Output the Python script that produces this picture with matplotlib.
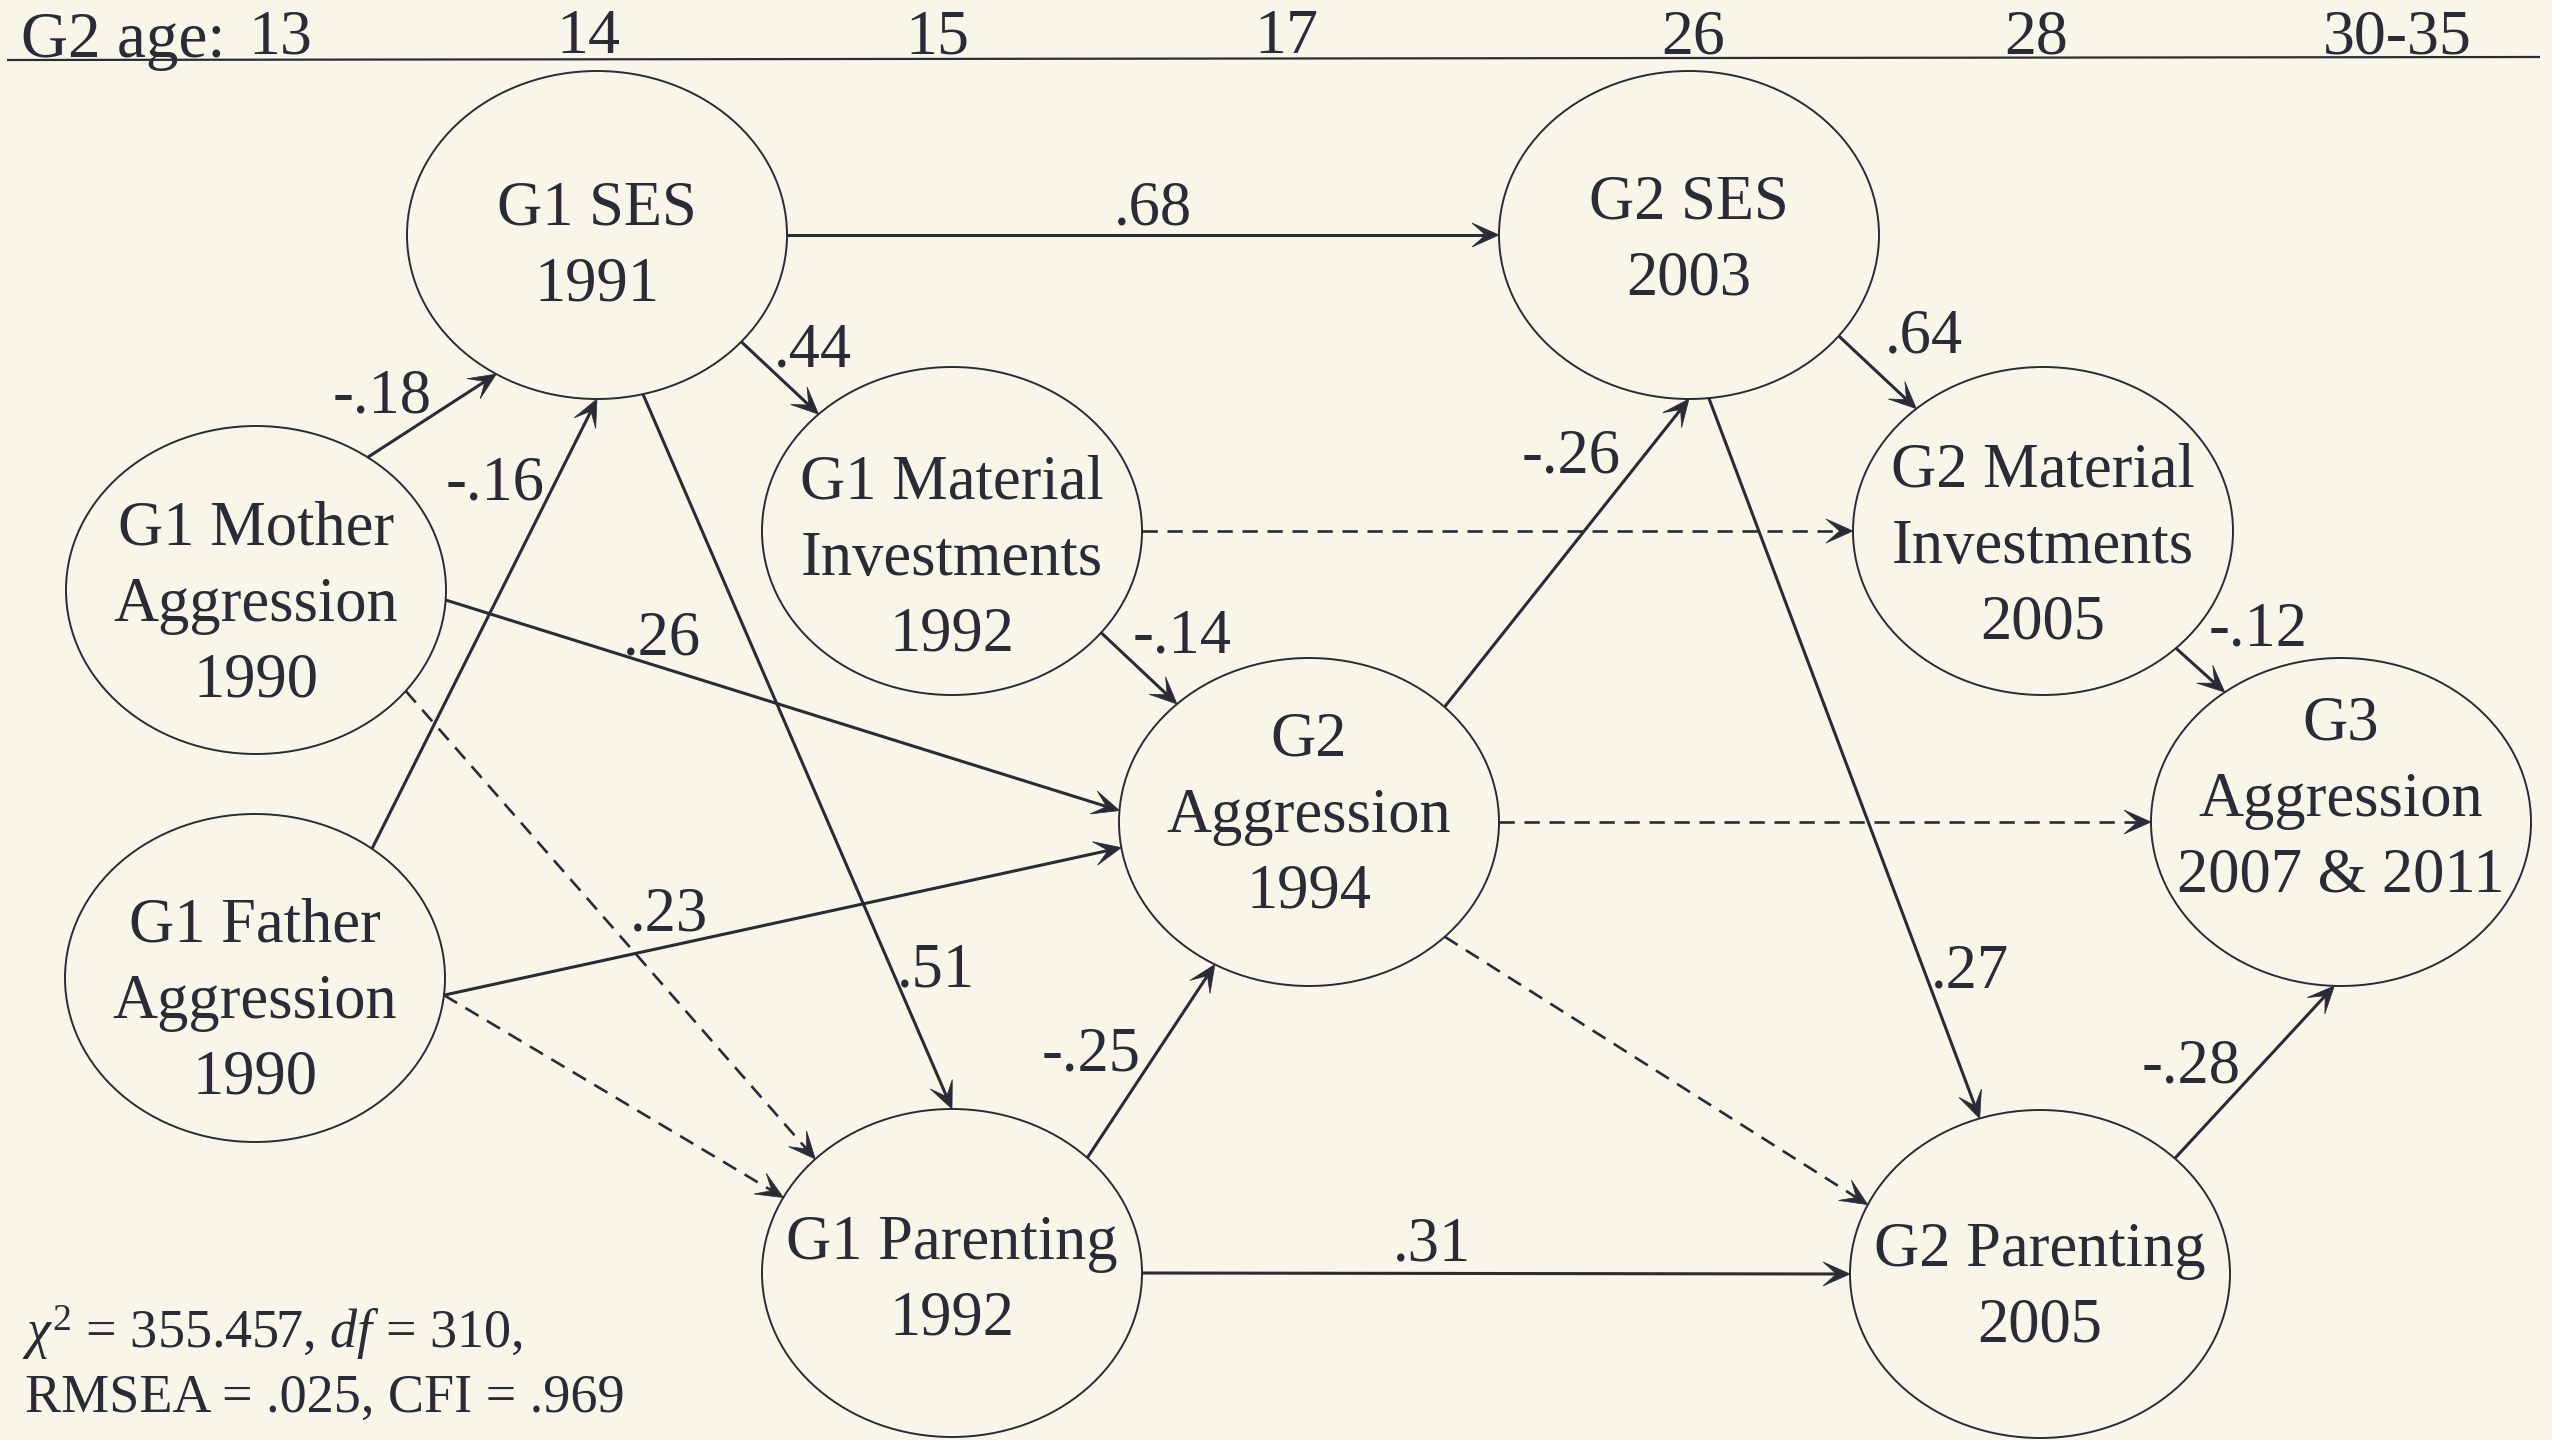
import numpy as np
import matplotlib
matplotlib.use("Agg")
import matplotlib.pyplot as plt
from matplotlib.patches import Ellipse, Polygon

plt.rcParams['font.family'] = ['Liberation Serif', 'DejaVu Serif']
plt.rcParams['mathtext.fontset'] = 'custom'
plt.rcParams['mathtext.rm'] = 'Liberation Serif'
plt.rcParams['mathtext.it'] = 'Liberation Serif:italic'
plt.rcParams['lines.scale_dashes'] = False

BG = '#F7F6E9'
INK = '#2A2B36'

# ---------------- data ----------------
age_title = "G2 age:"
age_labels = ["13", "14", "15", "17", "26", "28", "30-35"]
age_x = [280, 588, 937, 1286, 1693, 2036, 2397]

node_ids = ["mom", "dad", "g1ses", "g1mi", "g1par", "g2agg", "g2ses", "g2mi", "g3agg", "g2par"]
node_text = [
    ["G1 Mother", "Aggression", "1990"],
    ["G1 Father", "Aggression", "1990"],
    ["G1 SES", "1991"],
    ["G1 Material", "Investments", "1992"],
    ["G1 Parenting", "1992"],
    ["G2", "Aggression", "1994"],
    ["G2 SES", "2003"],
    ["G2 Material", "Investments", "2005"],
    ["G3", "Aggression", "2007 & 2011"],
    ["G2 Parenting", "2005"],
]
node_cx = [256, 255, 597, 952, 952, 1309, 1689, 2043, 2341, 2040]
node_cy = [590, 978, 235, 531, 1273, 822, 235, 531, 822, 1274]
node_text_dy = [10, 19, 7, 23, 3, -11, 1, 11, -27, 9]
node_rx = 190
node_ry = 164

edge_from = ["mom", "dad", "mom", "dad", "mom", "dad", "g1ses", "g1ses", "g1ses", "g1mi",
             "g1mi", "g1par", "g1par", "g2agg", "g2agg", "g2agg", "g2ses", "g2ses", "g2mi", "g2par"]
edge_to = ["g1ses", "g1ses", "g2agg", "g2agg", "g1par", "g1par", "g2ses", "g1mi", "g1par", "g2mi",
           "g2agg", "g2agg", "g2par", "g2ses", "g3agg", "g2par", "g2mi", "g2par", "g3agg", "g3agg"]
edge_coef = ["-.18", "-.16", ".26", ".23", "", "", ".68", ".44", ".51", "",
             "-.14", "-.25", ".31", "-.26", "", "", ".64", ".27", "-.12", "-.28"]
edge_dashed = [False, False, False, False, True, True, False, False, False, True,
               False, False, False, False, True, True, False, False, False, False]
# attachment angles on source / target ellipse (degrees, y downward)
edge_t0 = [-54, -52, 3.5, 6, 38, 6, 0, 40.6, 76, 0,
           38.3, -44.6, 0, -44.5, 0, 44.4, 38, 84, 45.6, -44.8]
edge_t1 = [122, 90, 184, 171, -136, -152.6, 180, -134.6, -90, 180,
           -134, 119.7, 180, 90, 180, -155, -131.8, -108.5, -127.7, 92]
coef_x = [382, 495, 662, 669, 0, 0, 1153, 813, 936, 0,
          1182, 1091, 1432, 1571, 0, 0, 1924, 1970, 2258, 2191]
coef_y = [392, 479, 634, 910, 0, 0, 204, 346, 966, 0,
          632, 1050, 1240, 452, 0, 0, 332, 967, 625, 1062]

fit_lines = [r"$\chi^2$ = 355.457, $df$ = 310,", "RMSEA = .025, CFI = .969"]

# ---------------- drawing ----------------
W, H = 2552, 1440
fig = plt.figure(figsize=(W / 100, H / 100), dpi=100, facecolor=BG)
ax = fig.add_axes([0, 0, 1, 1])
ax.set_facecolor(BG)
ax.set_xlim(0, W)
ax.set_ylim(H, 0)
ax.axis('off')

FS = 45
cap = 0.662 * FS * 100 / 72
LINE_GAP = 76

# header
ax.plot([7, 2540], [60, 57], color=INK, lw=1.6, solid_capstyle='butt')
ax.text(21, 57, age_title, fontsize=FS + 2, color=INK, ha='left', va='baseline')
for lab, x in zip(age_labels, age_x):
    ax.text(x, 53, lab, fontsize=FS + 1, color=INK, ha='center', va='baseline')

idx = {n: i for i, n in enumerate(node_ids)}

# nodes
for i, n in enumerate(node_ids):
    ax.add_patch(Ellipse((node_cx[i], node_cy[i]), 2 * node_rx, 2 * node_ry,
                         facecolor='none', edgecolor=INK, lw=1.4))
    lines = node_text[i]
    k = len(lines)
    mid = node_cy[i] + node_text_dy[i]
    for j, s in enumerate(lines):
        capmid = mid + (j - (k - 1) / 2) * LINE_GAP
        ax.text(node_cx[i], capmid + cap / 2, s, fontsize=FS, color=INK,
                ha='center', va='baseline')


def pt(name, t):
    i = idx[name]
    r = np.deg2rad(t)
    return np.array([node_cx[i] + node_rx * np.cos(r), node_cy[i] + node_ry * np.sin(r)])


HL, HW = 27, 12
for e in range(len(edge_from)):
    p0 = pt(edge_from[e], edge_t0[e])
    p1 = pt(edge_to[e], edge_t1[e])
    u = (p1 - p0) / np.linalg.norm(p1 - p0)
    nrm = np.array([-u[1], u[0]])
    notch = p1 - 0.5 * HL * u
    if edge_dashed[e]:
        ax.plot([p0[0], notch[0]], [p0[1], notch[1]], color=INK, lw=1.9,
                linestyle=(0, (11, 7)))
    else:
        ax.plot([p0[0], notch[0]], [p0[1], notch[1]], color=INK, lw=2.2,
                solid_capstyle='butt')
    head = [p1, p1 - HL * u + HW * nrm, notch, p1 - HL * u - HW * nrm]
    ax.add_patch(Polygon(head, closed=True, facecolor=INK, edgecolor=INK, lw=0.5))
    if edge_coef[e]:
        ax.text(coef_x[e], coef_y[e] + cap / 2, edge_coef[e], fontsize=FS, color=INK,
                ha='center', va='baseline')

# fit statistics
ax.text(22, 1348, fit_lines[0], fontsize=39, color=INK, ha='left', va='baseline')
ax.text(25, 1412, fit_lines[1], fontsize=39, color=INK, ha='left', va='baseline')

fig.savefig("out.png", dpi=100, facecolor=BG)
